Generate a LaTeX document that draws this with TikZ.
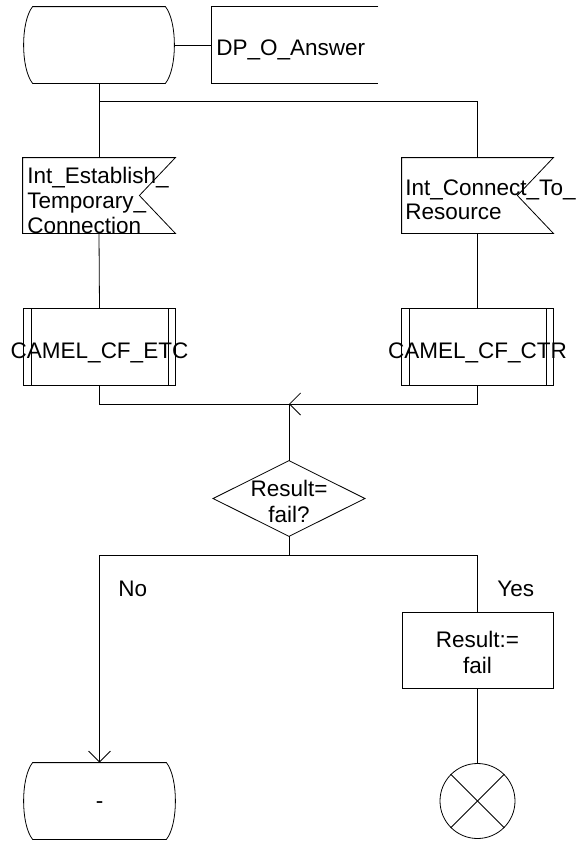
\documentclass[tikz,border=0pt]{standalone}
\usepackage{fontspec}
\setmainfont{Liberation Sans}
\usetikzlibrary{arrows.meta}
\newcommand\termshape[1]{\draw ([xshift=9pt]#1.north west) -- ([xshift=-9pt]#1.north east)
  .. controls ([xshift=3pt,yshift=-15pt]#1.north east) and ([xshift=3pt,yshift=15pt]#1.south east) .. ([xshift=-9pt]#1.south east)
  -- ([xshift=9pt]#1.south west)
  .. controls ([xshift=-3pt,yshift=15pt]#1.south west) and ([xshift=-3pt,yshift=-15pt]#1.north west) .. cycle;}
\newcommand\sigshape[1]{\draw (#1.north west) -- (#1.north east) -- ([xshift=-36pt]#1.east) -- (#1.south east) -- (#1.south west) -- cycle;}
\newcommand\procshape[1]{\draw (#1.north west) rectangle (#1.south east);
  \draw ([xshift=7.5pt]#1.north west) -- ([xshift=7.5pt]#1.south west);
  \draw ([xshift=-7.5pt]#1.north east) -- ([xshift=-7.5pt]#1.south east);}
\begin{document}
\begin{tikzpicture}[x=1pt,y=-1pt,line width=0.8pt,
  frame/.style={inner sep=0pt,minimum width=151pt,minimum height=76pt},
  lbl/.style={inner sep=0pt,font=\fontsize{22.5pt}{25pt}\selectfont},
  arr/.style={-{Straight Barb[length=11pt,width=22pt]}}]
\useasboundingbox (0,0) rectangle (581,841);
% top start state
\node[frame,minimum width=150pt] (st) at (99,45) {};
\termshape{st}
\node[inner sep=0pt,minimum width=166pt,minimum height=76pt] (dp) at (295,45) {};
\draw (dp.north east) -- (dp.north west) -- (dp.south west) -- (dp.south east);
\node[lbl,anchor=base west] (dptxt) at (216,55) {DP\_O\_Answer};
\draw (st.east) -- (dp.west);
% signals
\coordinate (b1) at (99,101);
\node[frame,minimum width=152pt,minimum height=75pt] (s1) at (99,195.5) {};
\node[frame,minimum height=75pt] (s2) at (477.5,195.5) {};
\sigshape{s1}
\sigshape{s2}
\node[lbl,anchor=base west] (s1a) at (27,183) {Int\_Establish\_};
\node[lbl,anchor=base west] (s1b) at (27,208) {Temporary\_};
\node[lbl,anchor=base west] (s1c) at (27,233) {Connection};
\node[lbl,anchor=base west] (s2a) at (405,195) {Int\_Connect\_To\_};
\node[lbl,anchor=base west] (s2b) at (405,219) {Resource};
\draw (st.south) -- (s1.north);
\draw (b1) -| (s2.north);
% procedures
\node[frame] (p1) at (99.5,347) {};
\node[frame] (p2) at (477.5,347) {};
\procshape{p1}
\procshape{p2}
\node[lbl,anchor=base] (p1t) at (99.5,358) {CAMEL\_CF\_ETC};
\node[lbl,anchor=base] (p2t) at (477.5,358) {CAMEL\_CF\_CTR};
\draw (s1.south) -- (p1.north);
\draw (s2.south) -- (p2.north);
\coordinate (j) at (289,404);
\draw (p1.south) |- (j);
\draw[arr] (p2.south) |- (j);
% decision
\node[frame,minimum height=75pt] (d) at (289,498.5) {};
\draw (d.north) -- (d.east) -- (d.south) -- (d.west) -- cycle;
\node[lbl,anchor=base] (dt1) at (289,496) {Result=};
\node[lbl,anchor=base] (dt2) at (289,522) {fail?};
\draw (d.north) -- (j);
\coordinate (b2) at (289,555);
\draw (d.south) -- (b2);
% branches
\node[frame] (e1) at (99.5,801) {};
\termshape{e1}
\node[lbl,anchor=base] (e1t) at (99.5,808) {-};
\node[frame,draw] (r) at (477.5,650) {};
\node[lbl,anchor=base] (rt1) at (477.5,647) {Result:=};
\node[lbl,anchor=base] (rt2) at (477.5,673) {fail};
\node[draw,circle,inner sep=0pt,minimum size=75pt] (c) at (477.5,801) {};
\draw (c.north west) -- (c.south east);
\draw (c.north east) -- (c.south west);
\draw[arr] (b2) -| (e1.north);
\draw (b2) -| (r.north);
\draw (r.south) -- (c.north);
\node[lbl,anchor=base west] (no) at (118,596) {No};
\node[lbl,anchor=base west] (yes) at (497,596) {Yes};
\end{tikzpicture}
\end{document}
